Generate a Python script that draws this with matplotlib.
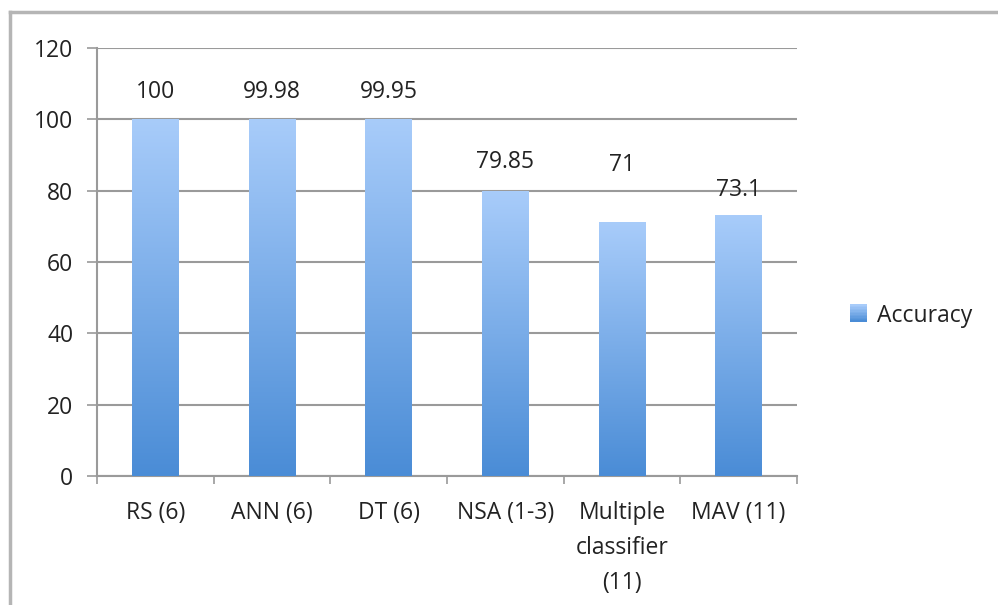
import numpy as np
import matplotlib
matplotlib.use("Agg")
import matplotlib.pyplot as plt
from matplotlib.colors import LinearSegmentedColormap
from matplotlib.legend_handler import HandlerBase
from matplotlib.patches import Rectangle
from matplotlib.lines import Line2D

# ── Data ──────────────────────────────────────────────────────────────────────
categories = ["RS (6)", "ANN (6)", "DT (6)", "NSA (1-3)",
              "Multiple\nclassifier\n(11)", "MAV (11)"]
accuracy = [100, 99.98, 99.95, 79.85, 71, 73.1]
value_labels = ["100", "99.98", "99.95", "79.85", "71", "73.1"]
label_offsets = [27, 27, 27, 29, 58, 25]   # px above the bar top
y_ticks = [0, 20, 40, 60, 80, 100, 120]
series_name = "Accuracy"

# ── Style ─────────────────────────────────────────────────────────────────────
TOP_BLUE = "#A8CCFA"
BOTTOM_BLUE = "#4A8CD6"
GRID = "#9a9a9a"
TEXT = "#222222"
plt.rcParams["font.family"] = ["Open Sans", "DejaVu Sans"]
FS = 16.5

grad = LinearSegmentedColormap.from_list("bar_grad", [BOTTOM_BLUE, TOP_BLUE])
ramp = np.linspace(0, 1, 256).reshape(-1, 1)

fig = plt.figure(figsize=(9.98, 6.05), dpi=100)
ax = fig.add_axes([0.0972, 0.2132, 0.7014, 0.7075])

x = np.arange(len(categories))
width = 0.4
bars = ax.bar(x, accuracy, width=width, color="none", zorder=3)

# vertical gradient fill for each bar
for b in bars:
    x0, y0 = b.get_x(), b.get_y()
    ax.imshow(ramp, cmap=grad, origin="lower", aspect="auto", zorder=3,
              extent=[x0, x0 + b.get_width(), y0, y0 + b.get_height()])

for xi, v, lab, off in zip(x, accuracy, value_labels, label_offsets):
    ax.annotate(lab, (xi, v), xytext=(0, off * 0.72), textcoords="offset points",
                ha="center", va="center", fontsize=FS, color=TEXT)

ax.set_xlim(-0.5, len(categories) - 0.5)
ax.set_ylim(0, 120)
ax.set_yticks(y_ticks)
ax.set_yticklabels([str(t) for t in y_ticks], fontsize=FS, color=TEXT)
ax.yaxis.grid(True, color=GRID, linewidth=1.5, zorder=0)
ax.set_axisbelow(True)

# category boundary ticks on x, labels centred under bars
ax.set_xticks(np.arange(len(categories) + 1) - 0.5)
ax.set_xticklabels([])
ax.set_xticks(x, minor=True)
ax.set_xticklabels(categories, minor=True, fontsize=FS, color=TEXT,
                   linespacing=1.6, va="top")
ax.tick_params(axis="x", which="minor", length=0, pad=18)
ax.tick_params(axis="x", which="major", length=6, width=1.2, color=GRID)
ax.tick_params(axis="y", length=7, width=1.2, color=GRID, pad=10)

for side in ["top", "right"]:
    ax.spines[side].set_visible(False)
for side in ["left", "bottom"]:
    ax.spines[side].set_color(GRID)
    ax.spines[side].set_linewidth(1.5)


class GradientHandler(HandlerBase):
    def create_artists(self, legend, orig_handle, xdescent, ydescent,
                       width, height, fontsize, trans):
        size = height * 1.1
        x0 = xdescent + width - size
        y0 = -ydescent + (height - size) / 2 + 0.5
        steps = 12
        arts = []
        for i in range(steps):
            arts.append(Rectangle((x0, y0 + size * i / steps), size, size / steps + 0.3,
                                  facecolor=grad(i / (steps - 1)), edgecolor="none",
                                  transform=trans))
        return arts


handle = Line2D([], [])
fig.legend([handle], [series_name], handler_map={Line2D: GradientHandler()},
           loc="center left", bbox_to_anchor=(0.829, 0.478), frameon=False,
           fontsize=FS, handlelength=0.85, handletextpad=0.4,
           labelcolor=TEXT)

# outer chart frame (top and left edges)
fig.add_artist(Line2D([0.0105, 1.0], [0.980, 0.980], transform=fig.transFigure,
                      color="#b5b5b5", linewidth=2.5))
fig.add_artist(Line2D([0.0105, 0.0105], [0.0, 0.980], transform=fig.transFigure,
                      color="#b5b5b5", linewidth=2.5))

fig.savefig("out.png", dpi=100)
